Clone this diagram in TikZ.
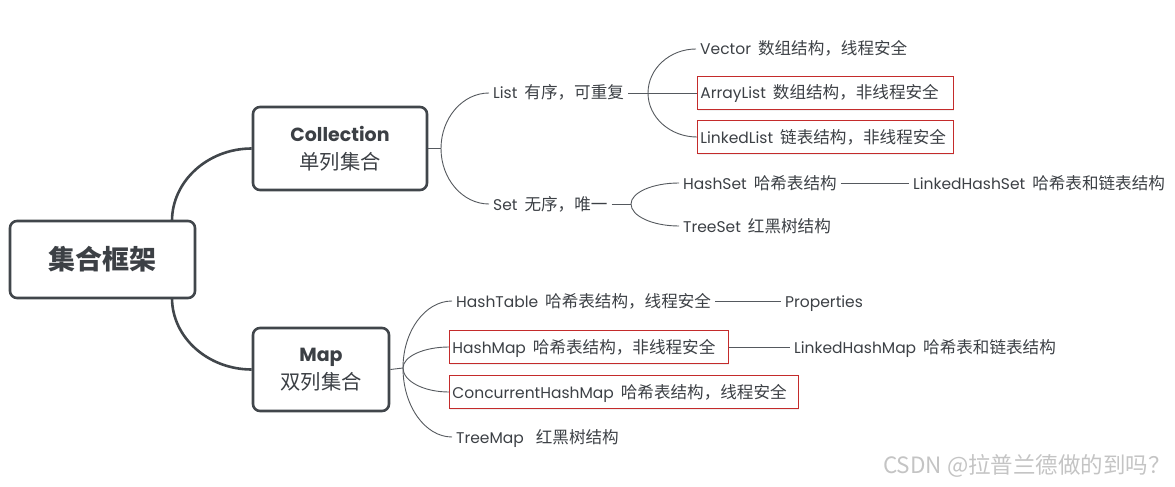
\documentclass[tikz,border=0pt]{standalone}
\usepackage{fontspec}
\usetikzlibrary{calc,shadows}
\setmainfont{Poppins}
\newfontfamily\zh[Scale=1.07]{Noto Sans CJK SC}
\newfontfamily\zhw{Noto Sans CJK SC}
\definecolor{boxc}{HTML}{41464B}
\definecolor{txt}{HTML}{3C4045}
\definecolor{linec}{HTML}{55595E}
\definecolor{redc}{HTML}{C42B2B}
\definecolor{wmc}{HTML}{C4C4C4}
\newcommand{\leaffont}{\fontsize{15.5}{18}\selectfont}
\newcommand{\gap}{\hspace{7pt}}
\begin{document}
\begin{tikzpicture}[x=1pt,y=-1pt,
  mainbox/.style={draw=boxc, line width=2.6pt, rounded corners=7pt, fill=white, text=txt, align=center, inner sep=0pt},
  leaf/.style={anchor=west, inner xsep=4pt, inner ysep=2pt, text=txt, font=\leaffont, text height=13.5pt, text depth=1.5pt},
  redbox/.style={leaf, draw=redc, line width=0.9pt, inner xsep=3pt, minimum height=33pt, text width=#1, fill=white,
    drop shadow={opacity=0.12, shadow xshift=1pt, shadow yshift=-1.5pt}},
  trunk/.style={draw=boxc, line width=2.6pt},
  branch/.style={draw=linec, line width=0.9pt},
  bend/.style args={#1 to #2}{insert path={(#1) .. controls ($(#1)!0.55!(#1 |- #2)$) and ($(#2)!0.55!(#1 |- #2)$) .. (#2)}}]
\useasboundingbox (0,0) rectangle (1175,487);

% main boxes
\node[mainbox, minimum width=185pt, minimum height=77pt, font=\fontsize{27}{30}\selectfont] (root) at (102.5,259.5) {\zhw\bfseries 集合框架};
\node[mainbox, minimum width=174pt, minimum height=83pt, font=\fontsize{19}{28}\selectfont] (coll) at (340,148.5)
  {\bfseries Collection\\\zh 单列集合};
\node[mainbox, minimum width=136pt, minimum height=83pt, font=\fontsize{19}{28}\selectfont] (map) at (321,369.5)
  {\bfseries Map\\\zh 双列集合};

\coordinate (rt) at (172,221);
\coordinate (rb) at (172,298);
\draw[trunk, bend=rt to coll.west];
\draw[trunk, bend=rb to map.west];

% collection side
\coordinate (cb) at (441,148.5);
\node[leaf] (list) at (489,93) {List\gap{\zh 有序，可重复}};
\node[leaf] (set) at (489,204) {Set\gap{\zh 无序，唯一}};
\draw[branch] (coll.east) -- (cb);
\draw[branch, bend=cb to list.west];
\draw[branch, bend=cb to set.west];

\coordinate (lb) at (648,93);
\node[leaf] (vec) at (696,49) {Vector\gap{\zh 数组结构，线程安全}};
\node[redbox=250pt] (al) at (697,93) {ArrayList\gap{\zh 数组结构，非线程安全}};
\node[redbox=250pt] (ll) at (697,137) {LinkedList\gap{\zh 链表结构，非线程安全}};
\draw[branch] (list.east) -- (lb);
\draw[branch, bend=lb to vec.west];
\draw[branch] (lb) -- (al.west);
\draw[branch, bend=lb to ll.west];

\coordinate (sb) at (631,204);
\node[leaf] (hs) at (679,183) {HashSet\gap{\zh 哈希表结构}};
\node[leaf] (lhs) at (909,183) {LinkedHashSet\gap{\zh 哈希表和链表结构}};
\node[leaf] (ts) at (679,226) {TreeSet\gap{\zh 红黑树结构}};
\draw[branch] (set.east) -- (sb);
\draw[branch, bend=sb to hs.west];
\draw[branch, bend=sb to ts.west];
\draw[branch] (hs.east) -- (lhs.west);

% map side
\coordinate (mb) at (403,368);
\node[leaf] (ht) at (452,301) {HashTable\gap{\zh 哈希表结构，线程安全}};
\node[leaf] (prop) at (781,301) {Properties};
\node[redbox=273pt] (hm) at (449,347) {HashMap\gap{\zh 哈希表结构，非线程安全}};
\node[leaf] (lhm) at (790,347) {LinkedHashMap\gap{\zh 哈希表和链表结构}};
\node[redbox=343pt] (chm) at (449,392) {ConcurrentHashMap\gap{\zh 哈希表结构，线程安全}};
\node[leaf] (tm) at (452,437) {TreeMap\hspace{12pt}{\zh 红黑树结构}};
\draw[branch] (map.east) -- (mb);
\draw[branch, bend=mb to ht.west];
\draw[branch, bend=mb to hm.west];
\draw[branch, bend=mb to chm.west];
\draw[branch, bend=mb to tm.west];
\draw[branch] (ht.east) -- (prop.west);
\draw[branch] (hm.east) -- (lhm.west);

% watermark
\node[anchor=west, inner sep=0pt, text=wmc, font=\fontsize{22.5}{26}\selectfont] (wm) at (883,466) {\zhw CSDN @拉普兰德做的到吗？};
\end{tikzpicture}
\end{document}
